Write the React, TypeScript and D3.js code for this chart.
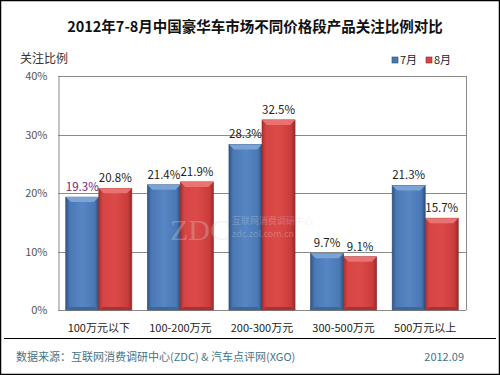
import React, { useRef, useEffect } from 'react';
import * as d3 from 'd3';

const categories = ['100万元以下', '100-200万元', '200-300万元', '300-500万元', '500万元以上'];
const july = [19.3, 21.4, 28.3, 9.7, 21.3];
const august = [20.8, 21.9, 32.5, 9.1, 15.7];
const seriesNames = ['7月', '8月'];
const yTicks = [0, 10, 20, 30, 40];

const App = () => {
  const svgRef = useRef<SVGSVGElement>(null);

  useEffect(() => {
    const width = 500;
    const height = 375;
    const margin = { left: 58, right: 34, top: 76, bottom: 65 };
    const font = '"Noto Sans CJK SC", "Noto Sans", sans-serif';

    const svg = d3.select(svgRef.current)
      .attr('width', width)
      .attr('height', height);
    svg.selectAll('*').remove();

    const defs = svg.append('defs');
    const grad = (id: string, stops: [number, string][]) => {
      const g = defs.append('linearGradient').attr('id', id)
        .attr('x1', 0).attr('x2', 1).attr('y1', 0).attr('y2', 0);
      stops.forEach(([o, c]) => g.append('stop').attr('offset', o).attr('stop-color', c));
    };
    grad('blueG', [[0, '#2f5584'], [0.12, '#4a78b4'], [0.5, '#5686c4'], [0.88, '#4a78b4'], [1, '#2c4f7c']]);
    grad('redG', [[0, '#a83030'], [0.12, '#d64545'], [0.5, '#dc4a48'], [0.88, '#c93c3b'], [1, '#9a2a2a']]);

    // background + frame
    svg.append('rect').attr('x', 0.5).attr('y', 0.5).attr('width', width - 1).attr('height', height - 1)
      .attr('fill', '#fff').attr('stroke', '#000').attr('stroke-width', 1.5);

    svg.append('text').attr('x', 255).attr('y', 32).attr('text-anchor', 'middle')
      .attr('font-family', font).attr('font-size', 14.5).attr('font-weight', 'bold').attr('fill', '#111')
      .text('2012年7-8月中国豪华车市场不同价格段产品关注比例对比');

    svg.append('text').attr('x', 20).attr('y', 63)
      .attr('font-family', font).attr('font-size', 12).attr('fill', '#333').text('关注比例');

    const x0 = d3.scaleBand().domain(categories).range([margin.left, width - margin.right]).paddingInner(0.19).paddingOuter(0.095);
    const x1 = d3.scaleBand().domain(seriesNames).range([0, x0.bandwidth()]);
    const y = d3.scaleLinear().domain([0, 40]).range([height - margin.bottom, margin.top]);

    // grid
    svg.append('g').selectAll('line').data(yTicks.slice(1)).join('line')
      .attr('x1', margin.left).attr('x2', width - margin.right)
      .attr('y1', d => Math.round(y(d)) + 0.5).attr('y2', d => Math.round(y(d)) + 0.5)
      .attr('stroke', '#8a8a8a').attr('stroke-width', 1);

    const axisG = svg.append('g').attr('transform', `translate(${margin.left + 0.5},0)`)
      .call(d3.axisLeft(y).tickValues(yTicks).tickSize(0).tickFormat(d => `${d}%`));
    axisG.select('.domain').attr('stroke', '#8a8a8a');
    axisG.selectAll('text').attr('font-family', font).attr('font-size', 11).attr('fill', '#555').attr('dx', -8);

    svg.append('line').attr('x1', width - margin.right + 0.5).attr('x2', width - margin.right + 0.5)
      .attr('y1', y(40)).attr('y2', y(0)).attr('stroke', '#8a8a8a');
    svg.append('line').attr('x1', margin.left).attr('x2', width - margin.right)
      .attr('y1', Math.round(y(0)) + 0.5).attr('y2', Math.round(y(0)) + 0.5).attr('stroke', '#8a8a8a');

    const rows = categories.flatMap((c, i) => [
      { c, s: seriesNames[0], v: july[i] },
      { c, s: seriesNames[1], v: august[i] },
    ]);

    const bars = svg.append('g').selectAll('g').data(rows).join('g')
      .attr('transform', d => `translate(${(x0(d.c) ?? 0) + (x1(d.s) ?? 0)},0)`);
    const bw = x1.bandwidth();
    bars.append('rect')
      .attr('x', 0).attr('width', bw)
      .attr('y', d => y(d.v)).attr('height', d => y(0) - y(d.v))
      .attr('fill', d => d.s === '7月' ? 'url(#blueG)' : 'url(#redG)')
      .attr('stroke', d => d.s === '7月' ? '#2a4a74' : '#922828').attr('stroke-width', 0.6);
    // top bevel
    bars.append('path')
      .attr('d', d => {
        const t = y(d.v);
        return `M0,${t} L${bw},${t} L${bw - 5},${t + 5} L5,${t + 5} Z`;
      })
      .attr('fill', d => d.s === '7月' ? '#7aa3d6' : '#ea7371');
    // bottom bevel
    bars.append('path')
      .attr('d', () => {
        const b = y(0);
        return `M0,${b} L${bw},${b} L${bw - 4},${b - 3} L4,${b - 3} Z`;
      })
      .attr('fill', d => d.s === '7月' ? '#3d6699' : '#a83232');

    // watermark (semi-transparent, over the bars)
    const wm = svg.append('g').attr('opacity', 0.3).attr('fill', '#d8d8d8');
    wm.append('text').attr('x', 200).attr('y', 240).attr('text-anchor', 'middle')
      .attr('font-family', '"Liberation Serif", serif').attr('font-size', 30).text('ZDC');
    wm.append('text').attr('x', 232).attr('y', 224)
      .attr('font-family', font).attr('font-size', 9).text('互联网消费调研中心');
    wm.append('text').attr('x', 232).attr('y', 237)
      .attr('font-family', font).attr('font-size', 9).text('zdc.zol.com.cn');

    bars.append('text')
      .attr('x', bw / 2).attr('y', d => y(d.v) - 6).attr('text-anchor', 'middle')
      .attr('font-family', font).attr('font-size', 11.5)
      .attr('fill', (d, i) => i === 0 ? '#7a1a7a' : '#222')
      .text(d => `${d.v}%`);

    svg.append('g').selectAll('text').data(categories).join('text')
      .attr('x', d => (x0(d) ?? 0) + x0.bandwidth() / 2).attr('y', height - margin.bottom + 22)
      .attr('text-anchor', 'middle').attr('font-family', font).attr('font-size', 11).attr('fill', '#222')
      .text(d => d);

    // legend
    const legend = svg.append('g').selectAll('g').data(seriesNames).join('g')
      .attr('transform', (d, i) => `translate(${392 + i * 34},57)`);
    legend.append('rect').attr('width', 6).attr('height', 6)
      .attr('fill', (d, i) => i === 0 ? '#4a78b4' : '#d64545')
      .attr('stroke', (d, i) => i === 0 ? '#2a4a74' : '#922828').attr('stroke-width', 0.6);
    legend.append('text').attr('x', 8).attr('y', 7)
      .attr('font-family', font).attr('font-size', 11).attr('fill', '#222').text(d => d);

    // footer
    svg.append('line').attr('x1', 4).attr('x2', 496).attr('y1', 338.5).attr('y2', 338.5)
      .attr('stroke', '#000').attr('stroke-width', 1.2);
    svg.append('text').attr('x', 16).attr('y', 361)
      .attr('font-family', font).attr('font-size', 11).attr('fill', '#3f7488')
      .text('数据来源：互联网消费调研中心(ZDC) & 汽车点评网(XGO)');
    svg.append('text').attr('x', 464).attr('y', 361).attr('text-anchor', 'end')
      .attr('font-family', font).attr('font-size', 11).attr('fill', '#3f7488')
      .text('2012.09');
  }, []);

  return (
    <svg ref={svgRef} style={{ position: 'absolute', left: 0, top: 0 }}></svg>
  );
};

export default App;
